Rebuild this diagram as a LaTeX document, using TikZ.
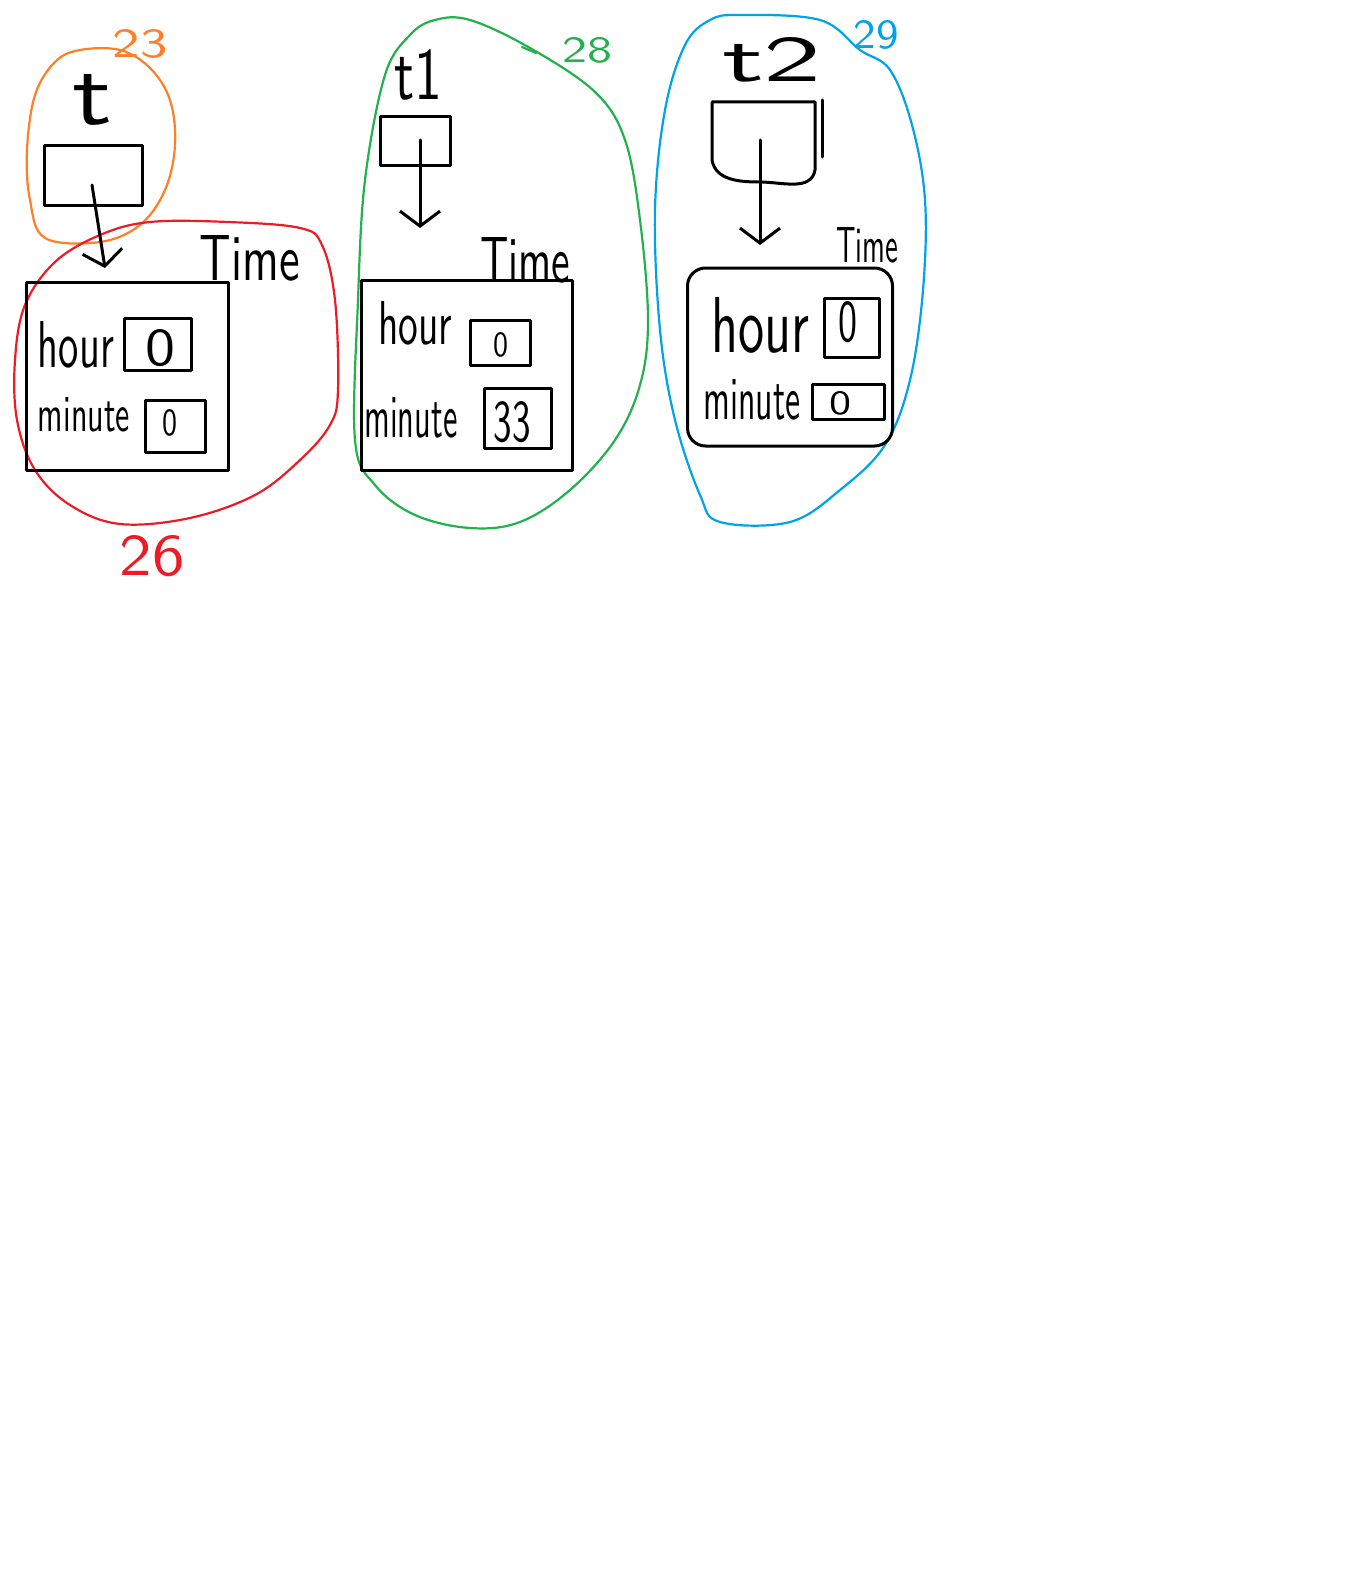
\documentclass[tikz,border=0pt]{standalone}
\usepackage{graphicx}
\usetikzlibrary{arrows.meta}
\definecolor{paintorange}{RGB}{255,127,39}
\definecolor{paintred}{RGB}{237,28,36}
\definecolor{paintgreen}{RGB}{34,177,76}
\definecolor{paintblue}{RGB}{0,162,232}
\newcommand\fitt[3]{\resizebox{#1pt}{#2pt}{\sffamily #3}}
\tikzset{
  ink/.style={line width=3pt, line cap=round, line join=round},
  blob/.style={line width=2.2pt, line cap=round, line join=round},
  boxn/.style={draw, ink, inner sep=0pt},
  txt/.style={inner sep=0pt},
  arr/.style={ink, -{Straight Barb[length=15pt,width=40pt,line width=3pt]}}
}
\begin{document}
\begin{tikzpicture}[x=1pt,y=-1pt]
\useasboundingbox[fill=white] (0,0) rectangle (1350,1576);

% ---------- panel 1 ----------
\draw[blob, paintorange] plot[smooth cycle, tension=0.6] coordinates {(80,50) (120,50) (150,68) (170,100) (175,145) (165,190) (140,225) (100,242) (45,238) (30,200) (27,150) (35,95) (55,62)};
\node[txt, text=paintorange] (n23) at (140,44) {\fitt{55}{28}{23}};
\node[txt] (tlbl) at (93,100) {\fitt{40}{50}{t}};
\node[boxn, minimum width=98pt, minimum height=60pt] (tb1) at (93,175) {};

\draw[blob, paintred] plot[smooth cycle, tension=0.6] coordinates {(150,222) (228,222) (300,228) (322,245) (335,300) (338,390) (330,425) (300,460) (255,495) (190,518) (120,524) (70,505) (35,470) (17,420) (15,360) (25,305) (55,262) (100,235)};
\node[txt, text=paintred] (n26) at (152,556) {\fitt{65}{40}{26}};
\node[txt] (time1) at (250,258) {\fitt{100}{45}{Time}};
\node[boxn, minimum width=202pt, minimum height=188pt] (obj1) at (127,376) {};
\node[txt] (hour1) at (76,345) {\fitt{76}{46}{hour}};
\node[boxn, minimum width=67pt, minimum height=52pt] (hb1) at (158,344) {};
\node[txt] (hv1) at (160,348) {\fitt{30}{36}{0}};
\node[txt] (min1) at (84,415) {\fitt{92}{34}{minute}};
\node[boxn, minimum width=60pt, minimum height=52pt] (mb1) at (175,426) {};
\node[txt] (mv1) at (170,423) {\fitt{15}{26}{0}};
\coordinate (a1s) at (92,185);
\coordinate (a1e) at (105,268);
\draw[arr] (a1s) -- (a1e);

% ---------- panel 2 ----------
\draw[blob, paintgreen] plot[smooth cycle, tension=0.6] coordinates {(470,20) (530,48) (595,92) (625,140) (640,220) (648,320) (640,385) (615,440) (570,490) (520,522) (470,528) (415,515) (375,485) (355,440) (358,300) (365,180) (385,75) (410,35) (435,20)};
\coordinate (g1) at (522,47);
\coordinate (g2) at (536,53);
\draw[blob, paintgreen] (g1) -- (g2);
\node[txt, text=paintgreen] (n28) at (587,50) {\fitt{50}{25}{28}};
\node[txt] (t1lbl) at (418,75) {\fitt{48}{50}{t1}};
\node[boxn, minimum width=70pt, minimum height=48pt] (tb2) at (415,141) {};
\node[txt] (time2) at (525,260) {\fitt{90}{45}{Time}};
\node[boxn, minimum width=211pt, minimum height=190pt] (obj2) at (467,375) {};
\node[txt] (hour2) at (415,323) {\fitt{74}{43}{hour}};
\node[boxn, minimum width=60pt, minimum height=45pt] (hb2) at (500,343) {};
\node[txt] (hv2) at (501,345) {\fitt{15}{24}{0}};
\node[txt] (min2) at (411,418) {\fitt{93}{40}{minute}};
\node[boxn, minimum width=67pt, minimum height=60pt] (mb2) at (518,418) {};
\node[txt] (mv2) at (512,422) {\fitt{37}{40}{33}};
\coordinate (a2s) at (420,140);
\coordinate (a2e) at (420,228);
\draw[arr] (a2s) -- (a2e);

% ---------- panel 3 ----------
\draw[blob, paintblue] plot[smooth cycle, tension=0.6] coordinates {(740,15) (820,20) (860,50) (890,70) (912,125) (925,200) (923,290) (910,380) (885,445) (840,490) (790,522) (720,522) (700,495) (675,420) (660,330) (655,210) (665,110) (685,45) (710,20)};
\node[txt, text=paintblue] (n29) at (876,35) {\fitt{45}{28}{29}};
\node[txt] (t2lbl) at (772,60) {\fitt{100}{44}{t2}};
\draw[ink] (712,102) -- (815,102) -- (815,170) to[out=-100,in=0] (760,182) to[out=180,in=-80] (712,160) -- cycle;
\node[txt, minimum width=103pt, minimum height=80pt] (tb3) at (763,142) {};
\coordinate (v1) at (822,100);
\coordinate (v2) at (822,157);
\draw[ink] (v1) -- (v2);
\node[txt] (time3) at (867,245) {\fitt{62}{35}{Time}};
\node[boxn, rounded corners=18pt, minimum width=205pt, minimum height=178pt] (obj3) at (790,357) {};
\node[txt] (hour3) at (760,325) {\fitt{98}{55}{hour}};
\node[boxn, minimum width=55pt, minimum height=59pt] (hb3) at (852,328) {};
\node[txt] (hv3) at (848,322) {\fitt{19}{40}{0}};
\node[txt] (min3) at (752,400) {\fitt{97}{40}{minute}};
\node[boxn, minimum width=72pt, minimum height=35pt] (mb3) at (848,402) {};
\node[txt] (mv3) at (840,403) {\fitt{22}{23}{0}};
\coordinate (a3s) at (760,140);
\coordinate (a3e) at (760,245);
\draw[arr] (a3s) -- (a3e);
\end{tikzpicture}
\end{document}
